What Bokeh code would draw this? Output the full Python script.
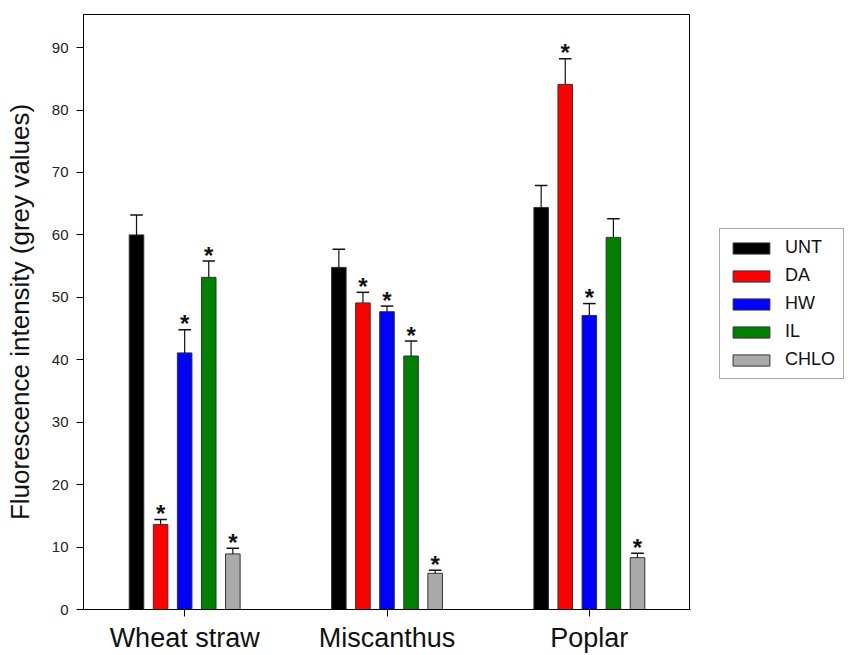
from bokeh.plotting import figure
from bokeh.layouts import row
from bokeh.models import ColumnDataSource, FactorRange, Range1d, FixedTicker, Legend, LegendItem
from bokeh.transform import dodge
from bokeh.core.properties import value
from bokeh.embed import file_html
from bokeh.resources import INLINE

categories = ["Wheat straw", "Miscanthus", "Poplar"]
treatments = ["UNT", "DA", "HW", "IL", "CHLO"]
colors = ["#000000", "#ff0000", "#0000ff", "#008000", "#aaaaaa"]
y_ticks = [0, 10, 20, 30, 40, 50, 60, 70, 80, 90]

unt = [60.0, 54.8, 64.4]
da = [13.6, 49.1, 84.1]
hw = [41.1, 47.7, 47.1]
il = [53.2, 40.6, 59.6]
chlo = [8.9, 5.8, 8.3]

unt_err = [3.2, 2.9, 3.5]
da_err = [0.8, 1.7, 4.1]
hw_err = [3.7, 0.9, 1.9]
il_err = [2.6, 2.4, 3.0]
chlo_err = [0.9, 0.5, 0.7]

unt_sig = [False, False, False]
da_sig = [True, True, True]
hw_sig = [True, True, True]
il_sig = [True, True, False]
chlo_sig = [True, True, True]

series = [
    (unt, unt_err, unt_sig),
    (da, da_err, da_sig),
    (hw, hw_err, hw_sig),
    (il, il_err, il_sig),
    (chlo, chlo_err, chlo_sig),
]

FONT = "Liberation Sans"
STEP = 0.119
BAR_W = 0.072
CAP_W = 0.062

p = figure(
    x_range=FactorRange(factors=categories, range_padding=0),
    y_range=Range1d(0, 95.3),
    width=690, height=655,
    output_backend="svg", toolbar_location=None,
    min_border_left=83, min_border_right=0, min_border_top=14, min_border_bottom=45,
)

for i, (name, (vals, errs, sigs), col) in enumerate(zip(treatments, series, colors)):
    off = (i - 2) * STEP
    src = ColumnDataSource(dict(
        cat=categories,
        top=vals,
        etop=[v + e for v, e in zip(vals, errs)],
        sig=["*" if s else "" for s in sigs],
    ))
    p.vbar(x=dodge("cat", off, range=p.x_range), top="top", bottom=0, width=BAR_W,
           source=src, fill_color=col, line_color="#333333", line_width=1)
    p.segment(x0=dodge("cat", off, range=p.x_range), y0="top",
              x1=dodge("cat", off, range=p.x_range), y1="etop",
              source=src, line_color="#111111", line_width=1.2)
    p.segment(x0=dodge("cat", off - CAP_W / 2, range=p.x_range), y0="etop",
              x1=dodge("cat", off + CAP_W / 2, range=p.x_range), y1="etop",
              source=src, line_color="#111111", line_width=1.5)
    p.text(x=dodge("cat", off, range=p.x_range), y="etop", text="sig", source=src,
           text_align="center", text_baseline="alphabetic", y_offset=-6,
           text_font=value(FONT), text_font_size="24px", text_font_style="bold",
           text_color="#111111")

p.xgrid.visible = False
p.ygrid.visible = False
p.outline_line_color = "black"
p.outline_line_alpha = 1
p.outline_line_width = 1
p.background_fill_color = "white"
p.border_fill_color = "white"

p.yaxis.ticker = FixedTicker(ticks=y_ticks)
p.yaxis.minor_tick_line_color = None
p.yaxis.major_tick_in = 0
p.yaxis.major_tick_out = 7
p.yaxis.major_label_standoff = 8
p.yaxis.major_label_text_font = FONT
p.yaxis.major_label_text_font_size = "15px"
p.yaxis.major_label_text_color = "#222222"
p.yaxis.axis_label = "Fluorescence intensity (grey values)"
p.yaxis.axis_label_text_font = FONT
p.yaxis.axis_label_text_font_size = "26px"
p.yaxis.axis_label_text_font_style = "normal"
p.yaxis.axis_label_text_color = "#111111"
p.yaxis.axis_label_standoff = 14
p.yaxis.axis_line_color = "black"
p.yaxis.major_tick_line_color = "black"

p.xaxis.major_tick_in = 0
p.xaxis.major_tick_out = 7
p.xaxis.major_label_standoff = 6
p.xaxis.major_label_text_font = FONT
p.xaxis.major_label_text_font_size = "27px"
p.xaxis.major_label_text_color = "#111111"
p.xaxis.axis_line_color = "black"
p.xaxis.major_tick_line_color = "black"

# legend panel to the right of the chart
q = figure(
    width=159, height=655, x_range=Range1d(0, 1), y_range=Range1d(0, 1),
    x_axis_type=None, y_axis_type=None,
    output_backend="svg", toolbar_location=None,
    min_border_left=0, min_border_right=0, min_border_top=0, min_border_bottom=0,
)
q.outline_line_color = None
q.xgrid.visible = False
q.ygrid.visible = False
items = []
for name, col in zip(treatments, colors):
    # placeholder glyph outside the visible range; only its legend swatch is shown
    r = q.vbar(x=[-5], top=[-4], bottom=[-5], width=0.1,
               fill_color=col, line_color="#333333", line_width=1)
    items.append(LegendItem(label=name, renderers=[r]))

legend = Legend(
    items=items, location=(29, 230),
    glyph_width=46, glyph_height=14, label_standoff=11,
    label_text_font=FONT, label_text_font_size="18px", label_text_color="#111111",
    spacing=7, padding=8, margin=0,
    border_line_color="#555555", border_line_width=1,
    background_fill_color="white", background_fill_alpha=1,
)
q.add_layout(legend)

layout = row(p, q)
open("out.html", "w").write(file_html(layout, INLINE))
